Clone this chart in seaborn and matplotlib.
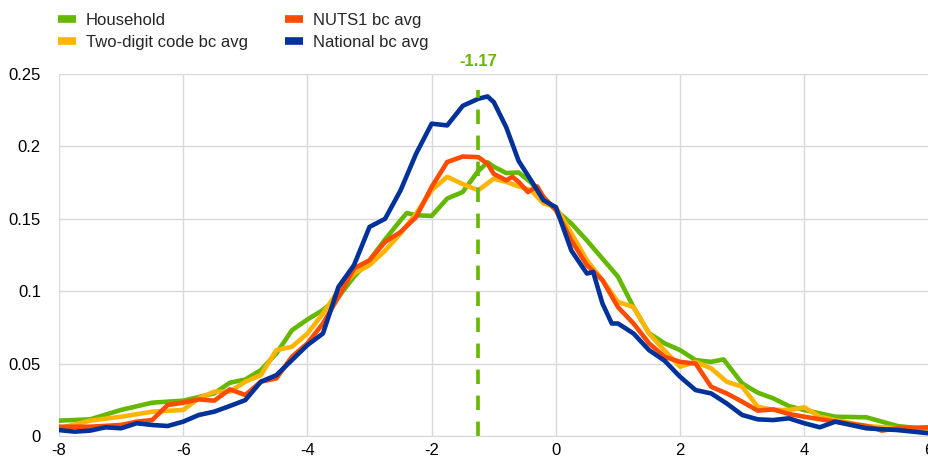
import matplotlib
matplotlib.use('Agg')
import matplotlib.pyplot as plt
import seaborn as sns
import pandas as pd

# values
hh_x = [-8, -7.5, -7, -6.5, -6, -5.5, -5.25, -5, -4.75, -4.5, -4.25, -4, -3.75, -3.5, -3.25, -3,
        -2.75, -2.5, -2.4, -2.25, -2, -1.75, -1.5, -1.25, -1.1, -1, -0.8, -0.6, -0.4, -0.2,
        0, 0.25, 0.5, 0.75, 1, 1.25, 1.5, 1.75, 2, 2.25, 2.5, 2.7, 3, 3.25, 3.5, 3.75, 4,
        4.5, 5, 5.5, 6]
hh_y = [0.0106, 0.0115, 0.018, 0.023, 0.0244, 0.0294, 0.0368, 0.039, 0.0455, 0.057, 0.073, 0.0805,
        0.087, 0.096, 0.11, 0.1214, 0.1357, 0.149, 0.154, 0.1524, 0.152, 0.164, 0.1685, 0.183,
        0.189, 0.186, 0.1816, 0.182, 0.175, 0.165, 0.156, 0.1467, 0.135, 0.1225, 0.11, 0.089,
        0.071, 0.064, 0.0593, 0.0524, 0.0512, 0.0529, 0.0363, 0.0299, 0.026, 0.0207, 0.0179,
        0.0133, 0.0129, 0.0069, 0.0046]

two_x = [-8, -7.5, -7, -6.5, -6, -5.75, -5.5, -5.25, -5, -4.75, -4.5, -4.25, -4, -3.75, -3.5,
         -3.25, -3, -2.75, -2.5, -2.25, -2, -1.75, -1.5, -1.25, -1, -0.8, -0.6, -0.4, -0.2,
         0, 0.25, 0.5, 0.75, 1, 1.25, 1.5, 1.75, 2, 2.25, 2.5, 2.75, 3, 3.25, 3.5, 3.75, 4,
         4.25, 4.5, 5, 5.5, 6]
two_y = [0.0053, 0.0106, 0.0133, 0.0168, 0.018, 0.026, 0.0306, 0.0306, 0.0375, 0.042, 0.0593,
         0.0616, 0.0708, 0.0846, 0.1007, 0.1122, 0.118, 0.128, 0.14, 0.1536, 0.1697, 0.179,
         0.174, 0.1697, 0.1777, 0.1755, 0.1724, 0.1697, 0.1606, 0.158, 0.14, 0.1214, 0.1076,
         0.0926, 0.089, 0.0708, 0.059, 0.0478, 0.0512, 0.0467, 0.0375, 0.034, 0.0202, 0.018,
         0.018, 0.0198, 0.0133, 0.011, 0.0069, 0.0053, 0.0053]

nuts_x = [-8, -7.5, -7, -6.75, -6.5, -6.25, -6, -5.75, -5.5, -5.25, -5, -4.75, -4.5, -4.25, -4,
          -3.75, -3.5, -3.25, -3, -2.75, -2.5, -2.25, -2, -1.75, -1.5, -1.25, -1.1, -1, -0.8,
          -0.7, -0.6, -0.45, -0.3, -0.2, 0, 0.25, 0.5, 0.75, 1, 1.25, 1.5, 1.75, 2, 2.25, 2.5,
          2.75, 3, 3.25, 3.5, 3.75, 4, 4.5, 5, 5.25, 5.5, 6]
nuts_y = [0.0064, 0.0064, 0.0076, 0.0099, 0.011, 0.0214, 0.023, 0.0253, 0.0244, 0.0322, 0.0283,
          0.0375, 0.0398, 0.0547, 0.064, 0.0777, 0.096, 0.1157, 0.1214, 0.134, 0.1409, 0.1512,
          0.172, 0.1892, 0.193, 0.1926, 0.188, 0.181, 0.1766, 0.179, 0.1755, 0.1685, 0.1724,
          0.165, 0.156, 0.135, 0.118, 0.1076, 0.089, 0.0777, 0.064, 0.0547, 0.0512, 0.05, 0.034,
          0.0294, 0.0237, 0.0175, 0.0184, 0.0152, 0.0133, 0.0099, 0.0069, 0.0037, 0.0053, 0.006]

nat_x = [-8, -7.75, -7.5, -7.25, -7, -6.75, -6.5, -6.25, -6, -5.75, -5.5, -5.25, -5, -4.75,
         -4.5, -4.25, -4, -3.75, -3.5, -3.25, -3, -2.75, -2.5, -2.25, -2, -1.75, -1.5, -1.25,
         -1.1, -1, -0.8, -0.6, -0.4, -0.2, 0, 0.25, 0.5, 0.6, 0.75, 0.9, 1, 1.25, 1.5, 1.75,
         2, 2.25, 2.5, 2.75, 3, 3.25, 3.5, 3.75, 4, 4.25, 4.5, 5, 5.5, 6]
nat_y = [0.0041, 0.003, 0.0037, 0.006, 0.0053, 0.0088, 0.0076, 0.0069, 0.0099, 0.0145, 0.0168,
         0.0207, 0.0248, 0.0375, 0.042, 0.0524, 0.0628, 0.0708, 0.103, 0.118, 0.1444, 0.15,
         0.1697, 0.195, 0.2157, 0.2145, 0.228, 0.2329, 0.2345, 0.2306, 0.2133, 0.19, 0.1766,
         0.1628, 0.158, 0.128, 0.1122, 0.1133, 0.0915, 0.0777, 0.0777, 0.0708, 0.0593, 0.052,
         0.0409, 0.0317, 0.0294, 0.0225, 0.0145, 0.0115, 0.011, 0.0122, 0.0088, 0.006, 0.0099,
         0.0053, 0.0041, 0.0019]

series_names = ['Household', 'Two-digit code bc avg', 'NUTS1 bc avg', 'National bc avg']
colors = ['#65B800', '#FFB400', '#FF4B00', '#003299']

median_label = '-1.17'
median_pos = -1.25
median_top = 0.239

frames = []
for name, xs, ys in zip(series_names, [hh_x, two_x, nuts_x, nat_x], [hh_y, two_y, nuts_y, nat_y]):
    frames.append(pd.DataFrame({'x': xs, 'y': ys, 'series': name}))
df = pd.concat(frames, ignore_index=True)

sns.set_style('white')
plt.rcParams['font.family'] = ['Liberation Sans', 'DejaVu Sans']

fig = plt.figure(figsize=(9.29, 4.62), dpi=100)
ax = fig.add_axes([0.0635, 0.0563, 0.936, 0.7835])

sns.lineplot(data=df, x='x', y='y', hue='series', hue_order=series_names,
             palette=colors, linewidth=3.3, sort=False, estimator=None, ax=ax, legend=False)
for line in ax.get_lines():
    line.set_solid_joinstyle('round')
    line.set_solid_capstyle('round')

# dashed marker for the household median
ax.plot([median_pos, median_pos], [0, median_top], color=colors[0], linewidth=2.6,
        linestyle=(0, (4, 3.2)))
ax.text(median_pos, 0.2535, median_label, color=colors[0], fontsize=12, fontweight='bold',
        ha='center', va='bottom', clip_on=False)

ax.set_xlim(-8, 6)
ax.set_ylim(0, 0.25)
ax.set_xticks(range(-8, 7, 2))
ax.set_xticklabels([str(v) for v in range(-8, 7, 2)])
ax.set_yticks([0, 0.05, 0.1, 0.15, 0.2, 0.25])
ax.set_yticklabels(['0', '0.05', '0.1', '0.15', '0.2', '0.25'])
ax.tick_params(axis='both', length=0, labelsize=12, colors='#000000')
ax.tick_params(axis='x', pad=5)
ax.tick_params(axis='y', pad=13)
ax.grid(True, color='#D9D9D9', linewidth=1)
ax.set_axisbelow(True)
for side in ['top', 'right', 'left']:
    ax.spines[side].set_visible(False)
ax.spines['bottom'].set_color('#D9D9D9')
ax.set_xlabel('')
ax.set_ylabel('')

handles = [plt.Line2D([0], [0], color=c, linewidth=5.5, solid_capstyle='butt') for c in colors]
fig.legend(handles, series_names,
           loc='upper left', bbox_to_anchor=(0.046, 1.005), ncol=2, frameon=False,
           fontsize=12, handlelength=1.1, handletextpad=0.6, columnspacing=2.2,
           labelspacing=0.45)

fig.savefig('out.png', dpi=100)
